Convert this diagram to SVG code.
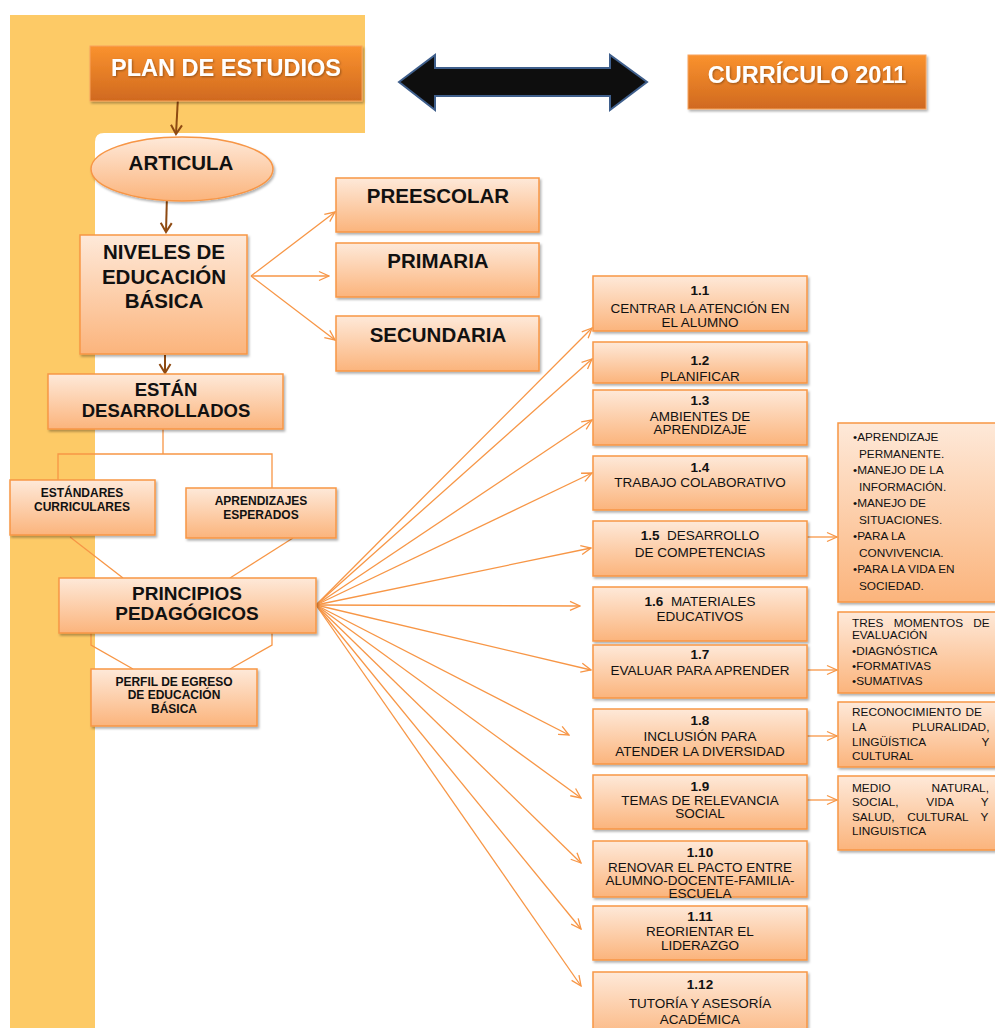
<svg xmlns="http://www.w3.org/2000/svg" width="995" height="1028" viewBox="0 0 995 1028">
<defs>
<linearGradient id="peach" x1="0" y1="0" x2="0" y2="1">
<stop offset="0" stop-color="#FEE9D9"/>
<stop offset="1" stop-color="#FBB47C"/>
</linearGradient>
<linearGradient id="orange" x1="0" y1="0" x2="0" y2="1">
<stop offset="0" stop-color="#FA922E"/>
<stop offset="1" stop-color="#D0691F"/>
</linearGradient>
<filter id="sh" x="-10%" y="-10%" width="130%" height="140%">
<feDropShadow dx="1.5" dy="2" stdDeviation="1.2" flood-color="#000" flood-opacity="0.3"/>
</filter>
<filter id="tsh" x="-10%" y="-20%" width="120%" height="150%">
<feDropShadow dx="1" dy="1" stdDeviation="0.8" flood-color="#000" flood-opacity="0.35"/>
</filter>
<marker id="oa" markerUnits="userSpaceOnUse" markerWidth="14" markerHeight="14" viewBox="0 0 14 14" refX="13" refY="7" orient="auto">
<path d="M3,2.5 L13,7 L3,11.5" fill="none" stroke="#F79646" stroke-width="1.3"/>
</marker>
<marker id="ba" markerUnits="userSpaceOnUse" markerWidth="14" markerHeight="14" viewBox="0 0 14 14" refX="12" refY="7" orient="auto">
<path d="M3,1.5 L12,7 L3,12.5" fill="none" stroke="#8E4A12" stroke-width="2"/>
</marker>
</defs>
<style>
.n{fill:url(#peach);stroke:#F79646;stroke-width:1.5;filter:url(#sh)}
.o{fill:url(#orange);stroke:#F7A45E;stroke-width:1;filter:url(#sh)}
.c{fill:none;stroke:#F79646;stroke-width:1.3}
.ca{fill:none;stroke:#F79646;stroke-width:1.3;marker-end:url(#oa)}
.b{fill:none;stroke:#8E4A12;stroke-width:2;marker-end:url(#ba)}
text{font-family:"Liberation Sans",Arial,sans-serif;fill:#111}
.h{font-weight:bold;text-anchor:middle}
.w{font-weight:bold;text-anchor:middle;fill:#fff;font-size:23.5px;filter:url(#tsh)}
.m{text-anchor:middle;font-size:13.5px}
.mb{font-weight:bold}
.s{font-size:11.8px}
</style>

<path d="M10,15 H365 V133 H104 Q95,133 95,142 V1028 H10 Z" fill="#FDCA66"/>

<g id="connectors">
<line class="b" x1="178" y1="97" x2="176" y2="134"/>
<line class="b" x1="167" y1="194" x2="166" y2="232"/>
<line class="b" x1="165" y1="355" x2="165" y2="373"/>
<line class="ca" x1="251" y1="276" x2="335" y2="212"/>
<line class="ca" x1="251" y1="276" x2="329" y2="276"/>
<line class="ca" x1="251" y1="276" x2="335" y2="340"/>
<path class="c" d="M163,429 V454 M58,480 V454 H272 V488"/>
<line class="c" x1="70" y1="537" x2="123" y2="578"/>
<line class="c" x1="293" y1="538" x2="230" y2="578"/>
<path class="c" d="M91,633 V645 L133,669 M272,633 V645 L230,669"/>
<line class="ca" x1="316" y1="605" x2="592" y2="328"/>
<line class="ca" x1="316" y1="605" x2="592" y2="359"/>
<line class="ca" x1="316" y1="605" x2="592" y2="420"/>
<line class="ca" x1="316" y1="605" x2="592" y2="473"/>
<line class="ca" x1="316" y1="605" x2="591" y2="548"/>
<line class="ca" x1="316" y1="605" x2="580" y2="606"/>
<line class="ca" x1="316" y1="605" x2="591" y2="670"/>
<line class="ca" x1="316" y1="605" x2="569" y2="735"/>
<line class="ca" x1="316" y1="605" x2="581" y2="798"/>
<line class="ca" x1="316" y1="605" x2="581" y2="863"/>
<line class="ca" x1="316" y1="605" x2="581" y2="929"/>
<line class="ca" x1="316" y1="605" x2="581" y2="986"/>
<line class="ca" x1="807" y1="537" x2="837" y2="537"/>
<line class="ca" x1="807" y1="670" x2="837" y2="670"/>
<line class="ca" x1="807" y1="736" x2="837" y2="736"/>
<line class="ca" x1="807" y1="800" x2="837" y2="800"/>
</g>

<g id="plan"><rect class="o" x="90" y="46" width="272" height="55"/><text class="w" x="226" y="76">PLAN DE ESTUDIOS</text></g>
<g id="doble-flecha"><path d="M399,82 L435,55 V68 H610 V55 L647,82 L610,110 V96 H435 V110 Z" fill="#0E0E0E" stroke="#3F5F8C" stroke-width="2" stroke-linejoin="miter"/></g>
<g id="curriculo"><rect class="o" x="688" y="55" width="238" height="54"/><text class="w" x="807" y="83">CURRÍCULO 2011</text></g>

<g id="articula"><ellipse class="n" cx="182" cy="169" rx="91" ry="32"/><text class="h" x="181" y="170" font-size="20.5">ARTICULA</text></g>
<g id="niveles"><rect class="n" x="80" y="235" width="167" height="119"/>
<text class="h" x="164" y="259" font-size="20.5">NIVELES DE</text>
<text class="h" x="164" y="284" font-size="20.5">EDUCACIÓN</text>
<text class="h" x="164" y="308" font-size="20.5">BÁSICA</text></g>
<g id="estan"><rect class="n" x="48" y="374" width="235" height="55"/>
<text class="h" x="166" y="396" font-size="18.5">ESTÁN</text>
<text class="h" x="166" y="417" font-size="18.5">DESARROLLADOS</text></g>
<g id="estandares"><rect class="n" x="10" y="480" width="145" height="55"/>
<text class="h" x="82" y="497" font-size="12">ESTÁNDARES</text>
<text class="h" x="82" y="511" font-size="12">CURRICULARES</text></g>
<g id="aprendizajes"><rect class="n" x="186" y="488" width="150" height="50"/>
<text class="h" x="261" y="505" font-size="12">APRENDIZAJES</text>
<text class="h" x="261" y="519" font-size="12">ESPERADOS</text></g>
<g id="principios"><rect class="n" x="59" y="578" width="257" height="55"/>
<text class="h" x="187" y="600" font-size="19">PRINCIPIOS</text>
<text class="h" x="187" y="620" font-size="19">PEDAGÓGICOS</text></g>
<g id="perfil"><rect class="n" x="91" y="669" width="166" height="57"/>
<text class="h" x="174" y="686" font-size="12">PERFIL DE EGRESO</text>
<text class="h" x="174" y="699" font-size="12">DE EDUCACIÓN</text>
<text class="h" x="174" y="713" font-size="12">BÁSICA</text></g>

<g id="preescolar"><rect class="n" x="336" y="178" width="203" height="54"/><text class="h" x="438" y="203" font-size="20.5">PREESCOLAR</text></g>
<g id="primaria"><rect class="n" x="336" y="243" width="203" height="54"/><text class="h" x="438" y="268" font-size="20.5">PRIMARIA</text></g>
<g id="secundaria"><rect class="n" x="336" y="316" width="203" height="55"/><text class="h" x="438" y="342" font-size="20.5">SECUNDARIA</text></g>

<g id="p1"><rect class="n" x="593" y="276" width="214" height="55"/>
<text class="m mb" x="700" y="294.5" font-size="12.5">1.1</text>
<text class="m" x="700" y="313">CENTRAR LA ATENCIÓN EN</text>
<text class="m" x="700" y="327">EL ALUMNO</text></g>
<g id="p2"><rect class="n" x="593" y="342" width="214" height="41"/>
<text class="m mb" x="700" y="365" font-size="12.5">1.2</text>
<text class="m" x="700" y="381">PLANIFICAR</text></g>
<g id="p3"><rect class="n" x="593" y="390" width="214" height="55"/>
<text class="m mb" x="700" y="405" font-size="12.5">1.3</text>
<text class="m" x="700" y="421">AMBIENTES DE</text>
<text class="m" x="700" y="434">APRENDIZAJE</text></g>
<g id="p4"><rect class="n" x="593" y="456" width="214" height="54"/>
<text class="m mb" x="700" y="472" font-size="12.5">1.4</text>
<text class="m" x="700" y="487">TRABAJO COLABORATIVO</text></g>
<g id="p5"><rect class="n" x="593" y="521" width="214" height="55"/>
<text class="m" x="700" y="540" xml:space="preserve"><tspan class="mb">1.5</tspan>  DESARROLLO</text>
<text class="m" x="700" y="557">DE COMPETENCIAS</text></g>
<g id="p6"><rect class="n" x="593" y="587" width="214" height="54"/>
<text class="m" x="700" y="606" xml:space="preserve"><tspan class="mb">1.6</tspan>  MATERIALES</text>
<text class="m" x="700" y="621">EDUCATIVOS</text></g>
<g id="p7"><rect class="n" x="593" y="645" width="214" height="53"/>
<text class="m mb" x="700" y="659" font-size="12.5">1.7</text>
<text class="m" x="700" y="675">EVALUAR PARA APRENDER</text></g>
<g id="p8"><rect class="n" x="593" y="709" width="214" height="55"/>
<text class="m mb" x="700" y="725" font-size="12.5">1.8</text>
<text class="m" x="700" y="741">INCLUSIÓN PARA</text>
<text class="m" x="700" y="756">ATENDER LA DIVERSIDAD</text></g>
<g id="p9"><rect class="n" x="593" y="775" width="214" height="54"/>
<text class="m mb" x="700" y="791" font-size="12.5">1.9</text>
<text class="m" x="700" y="805" font-size="13">TEMAS DE RELEVANCIA</text>
<text class="m" x="700" y="818" font-size="13">SOCIAL</text></g>
<g id="p10"><rect class="n" x="593" y="841" width="214" height="56"/>
<text class="m mb" x="700" y="857" font-size="12">1.10</text>
<text class="m" x="700" y="872" font-size="11">RENOVAR EL PACTO ENTRE</text>
<text class="m" x="700" y="885" font-size="11">ALUMNO-DOCENTE-FAMILIA-</text>
<text class="m" x="700" y="898" font-size="11">ESCUELA</text></g>
<g id="p11"><rect class="n" x="593" y="906" width="214" height="54"/>
<text class="m mb" x="700" y="921" font-size="13">1.11</text>
<text class="m" x="700" y="936" font-size="13.5">REORIENTAR EL</text>
<text class="m" x="700" y="950" font-size="13.5">LIDERAZGO</text></g>
<g id="p12"><rect class="n" x="593" y="972" width="214" height="70"/>
<text class="m mb" x="700" y="989" font-size="13">1.12</text>
<text class="m" x="700" y="1008" font-size="14">TUTORÍA Y ASESORÍA</text>
<text class="m" x="700" y="1024" font-size="14">ACADÉMICA</text></g>

<g id="competencias"><rect class="n" x="838" y="423" width="170" height="179"/>
<text class="s" x="853" y="441">•APRENDIZAJE</text>
<text class="s" x="859" y="457.5">PERMANENTE.</text>
<text class="s" x="853" y="474">•MANEJO DE LA</text>
<text class="s" x="859" y="490.5">INFORMACIÓN.</text>
<text class="s" x="853" y="507">•MANEJO DE</text>
<text class="s" x="859" y="523.5">SITUACIONES.</text>
<text class="s" x="853" y="540">•PARA LA</text>
<text class="s" x="859" y="556.5">CONVIVENCIA.</text>
<text class="s" x="853" y="573">•PARA LA VIDA EN</text>
<text class="s" x="859" y="589.5">SOCIEDAD.</text></g>
<g id="evaluacion"><rect class="n" x="838" y="612" width="170" height="81"/>
<text class="s" x="852" y="627" word-spacing="7">TRES MOMENTOS DE</text>
<text class="s" x="852" y="639">EVALUACIÓN</text>
<text class="s" x="852" y="655">•DIAGNÓSTICA</text>
<text class="s" x="852" y="670">•FORMATIVAS</text>
<text class="s" x="852" y="685">•SUMATIVAS</text></g>
<g id="reconocimiento"><rect class="n" x="838" y="702" width="170" height="65"/>
<text class="s" x="852" y="716" word-spacing="1">RECONOCIMIENTO DE</text>
<text class="s" x="852" y="731" word-spacing="43">LA PLURALIDAD,</text>
<text class="s" x="852" y="745.5" word-spacing="53">LINGÜÍSTICA Y</text>
<text class="s" x="852" y="760">CULTURAL</text></g>
<g id="medio"><rect class="n" x="838" y="776" width="170" height="74"/>
<text class="s" x="852" y="792" word-spacing="37.5">MEDIO NATURAL,</text>
<text class="s" x="852" y="806" word-spacing="24.5">SOCIAL, VIDA Y</text>
<text class="s" x="852" y="821" word-spacing="9.3">SALUD, CULTURAL Y</text>
<text class="s" x="852" y="835">LINGUISTICA</text></g>
</svg>
